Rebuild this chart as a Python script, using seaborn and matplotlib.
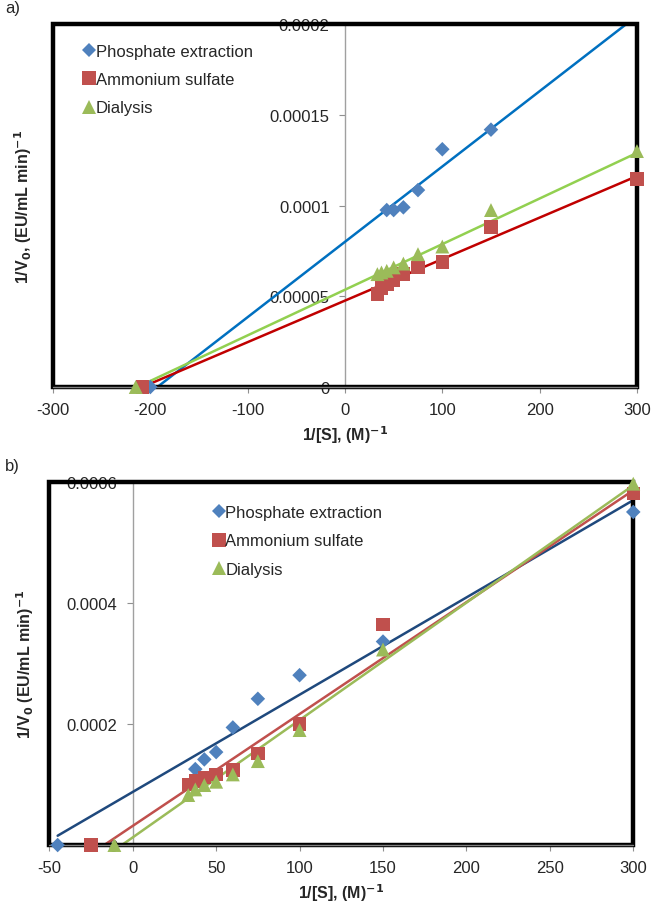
import matplotlib
matplotlib.use("Agg")
import matplotlib.pyplot as plt
from matplotlib.patches import Rectangle
import numpy as np
import pandas as pd
import seaborn as sns

sns.set_style("white")
plt.rcParams["font.family"] = ["Liberation Sans", "DejaVu Sans"]

SERIES = ["Phosphate extraction", "Ammonium sulfate", "Dialysis"]

# ---- panel a) Lineweaver-Burk data ----
a_phos_x = [-200, 42.9, 50, 60, 75, 100, 150]
a_phos_y = [0, 9.75e-5, 9.75e-5, 9.9e-5, 1.085e-4, 1.31e-4, 1.418e-4]
a_amm_x = [-208, 33.3, 37.5, 42.9, 50, 60, 75, 100, 150, 300]
a_amm_y = [0, 5.12e-5, 5.47e-5, 5.67e-5, 5.89e-5, 6.22e-5, 6.59e-5, 6.9e-5, 8.82e-5, 1.147e-4]
a_dia_x = [-215, 33.3, 37.5, 42.9, 50, 60, 75, 100, 150, 300]
a_dia_y = [0, 6.22e-5, 6.31e-5, 6.4e-5, 6.59e-5, 6.8e-5, 7.32e-5, 7.74e-5, 9.75e-5, 1.30e-4]
# linear trendlines (slope, intercept)
a_slopes = [4.15e-7, 2.287e-7, 2.513e-7]
a_intercepts = [8.0e-5, 4.76e-5, 5.36e-5]
a_xticks = [-300, -200, -100, 0, 100, 200, 300]
a_yticks = [0, 0.00005, 0.0001, 0.00015, 0.0002]
a_yticklabels = ["0", "0.00005", "0.0001", "0.00015", "0.0002"]

# ---- panel b) Lineweaver-Burk data ----
b_phos_x = [-45, 37.5, 42.9, 50, 60, 75, 100, 150, 300]
b_phos_y = [0, 1.255e-4, 1.415e-4, 1.536e-4, 1.943e-4, 2.417e-4, 2.807e-4, 3.363e-4, 5.505e-4]
b_amm_x = [-25, 33.3, 37.5, 42.9, 50, 60, 75, 100, 150, 300]
b_amm_y = [0, 1.002e-4, 1.062e-4, 1.117e-4, 1.167e-4, 1.239e-4, 1.514e-4, 2.004e-4, 3.644e-4, 5.807e-4]
b_dia_x = [-11, 33.3, 37.5, 42.9, 50, 60, 75, 100, 150, 300]
b_dia_y = [0, 8.26e-5, 9.19e-5, 9.91e-5, 1.046e-4, 1.167e-4, 1.387e-4, 1.90e-4, 3.231e-4, 5.972e-4]
b_slopes = [1.6075e-6, 1.849e-6, 1.94e-6]
b_intercepts = [8.77e-5, 3.16e-5, 1.26e-5]
b_xticks = [-50, 0, 50, 100, 150, 200, 250, 300]
b_yticks = [0, 0.0002, 0.0004, 0.0006]
b_yticklabels = ["0", "0.0002", "0.0004", "0.0006"]

marker_colors = {"Phosphate extraction": "#4F81BD",
                 "Ammonium sulfate": "#C0504D",
                 "Dialysis": "#9BBB59"}
markers = {"Phosphate extraction": "D",
           "Ammonium sulfate": "s",
           "Dialysis": "^"}
marker_sizes = {"Phosphate extraction": 55,
                "Ammonium sulfate": 95,
                "Dialysis": 100}
a_line_colors = ["#0070C0", "#C00000", "#92D050"]
b_line_colors = ["#1F497D", "#C0504D", "#9BBB59"]


def panel(ax, xs, ys, slopes, intercepts, line_colors, xlim, ylim,
          xticks, yticks, yticklabels, legend_loc, ylabel, label_x, tag):
    frames = []
    for name, x, y in zip(SERIES, xs, ys):
        frames.append(pd.DataFrame({"x": x, "y": y, "series": name}))
    df = pd.concat(frames, ignore_index=True)

    # trendlines, spanning each series' data range up to the axis end
    for x, m, c, col in zip(xs, slopes, intercepts, line_colors):
        xx = np.array([min(x), xlim[1]])
        ax.plot(xx, m * xx + c, color=col, lw=1.8, zorder=3)

    sns.scatterplot(data=df, x="x", y="y", hue="series", style="series",
                    size="series", hue_order=SERIES, style_order=SERIES,
                    size_order=SERIES, palette=marker_colors, markers=markers,
                    sizes=marker_sizes, edgecolor="none", linewidth=0,
                    ax=ax, zorder=4, clip_on=False)

    ax.set_xlim(*xlim)
    ax.set_ylim(*ylim)
    ax.set_xticks(xticks)
    ax.set_xticklabels([str(t) for t in xticks])
    ax.set_yticks(yticks)
    ax.set_yticklabels(yticklabels)

    # y axis runs through x = 0, frame drawn as a heavy box
    for s in ax.spines.values():
        s.set_visible(False)
    ax.spines["left"].set_visible(True)
    ax.spines["left"].set_position(("data", 0))
    ax.spines["left"].set_color("#A0A0A0")
    ax.spines["left"].set_linewidth(1.0)
    ax.add_patch(Rectangle((0, 0), 1, 1, transform=ax.transAxes, fill=False,
                           ec="black", lw=3.2, clip_on=False, zorder=3.5))
    ax.plot([0, 1], [0, 0], transform=ax.transAxes, color="#808080",
            lw=1.0, clip_on=False, zorder=3.6)

    ax.tick_params(axis="both", which="major", direction="out", length=4,
                   width=0.8, color="#909090", labelsize=12,
                   left=True, bottom=True)
    ax.tick_params(axis="x", pad=7)
    ax.tick_params(axis="y", pad=7)
    ax.set_xlabel("1/[S], (M)$^{\\mathbf{-1}}$", fontsize=11.5,
                  fontweight="bold", labelpad=4)
    ax.set_ylabel(ylabel, fontsize=11.5, fontweight="bold")
    ax.yaxis.set_label_coords(label_x, 0.5)

    handles, labels = ax.get_legend_handles_labels()
    ax.legend(handles, labels, loc="upper left", bbox_to_anchor=legend_loc,
              frameon=False, fontsize=12, handletextpad=0.0,
              labelspacing=0.8, handlelength=0.8, borderaxespad=0)
    ax.grid(False)
    ax.figure.text(0.008, ax.get_position().y1 + 0.01, tag, fontsize=12,
                   ha="left", va="bottom")


fig = plt.figure(figsize=(6.6, 9.03), dpi=100)
ax_a = fig.add_axes([0.0803, 0.5703, 0.8848, 0.4020])
ax_b = fig.add_axes([0.0747, 0.0631, 0.8848, 0.4020])

panel(ax_a, [a_phos_x, a_amm_x, a_dia_x], [a_phos_y, a_amm_y, a_dia_y],
      a_slopes, a_intercepts, a_line_colors, (-300, 300), (0, 0.0002),
      a_xticks, a_yticks, a_yticklabels, (0.039, 0.964),
      "1/V$_\\mathbf{0}$, (EU/mL min)$^{\\mathbf{-1}}$", -0.033, "a)")
panel(ax_b, [b_phos_x, b_amm_x, b_dia_x], [b_phos_y, b_amm_y, b_dia_y],
      b_slopes, b_intercepts, b_line_colors, (-50, 300), (0, 0.0006),
      b_xticks, b_yticks, b_yticklabels, (0.267, 0.955),
      "1/V$_\\mathbf{0}$ (EU/mL min)$^{\\mathbf{-1}}$", -0.022, "b)")

fig.savefig("out.png", dpi=100, facecolor="white")
